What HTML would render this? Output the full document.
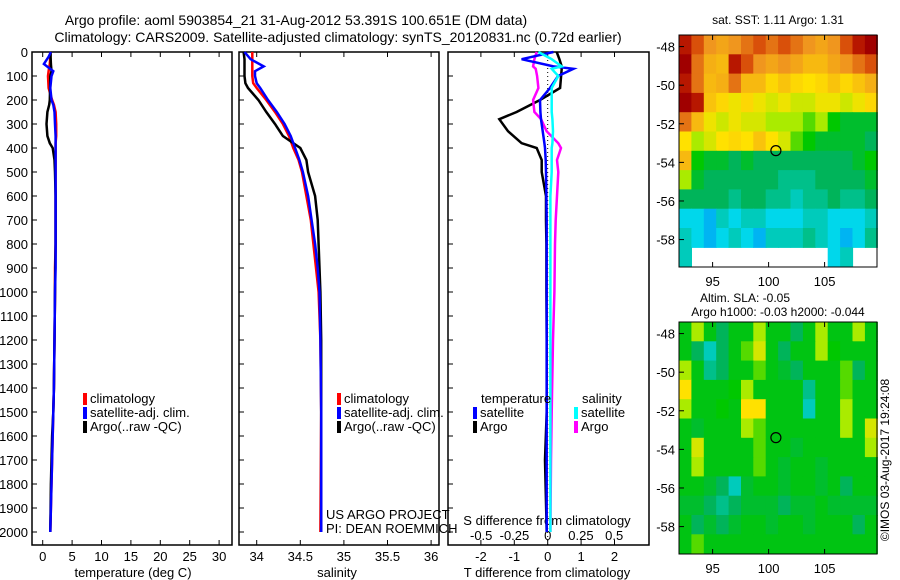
<!DOCTYPE html>
<html><head><meta charset="utf-8">
<style>
html,body{margin:0;padding:0;background:#fff;}
svg{display:block;font-family:"Liberation Sans",sans-serif;}
</style></head>
<body>
<svg id="fig" width="900" height="580" viewBox="0 0 900 580" xmlns="http://www.w3.org/2000/svg">
<text x="296" y="25" font-size="14" text-anchor="middle">Argo profile: aoml 5903854_21 31-Aug-2012 53.391S 100.651E (DM data)</text>
<text x="338" y="42" font-size="14" text-anchor="middle">Climatology: CARS2009. Satellite-adjusted climatology: synTS_20120831.nc (0.72d earlier)</text>
<g id="layer"></g>
</svg>
<script>
// ---------- data ----------
const depths = [0,20,50,80,100,150,200,220,250,300,350,380,400,450,500,600,700,800,900,1000,1200,1400,1500,1600,1700,1800,1900,2000];
const tempArgo = [1.35,1.35,1.4,1.5,1.3,1.25,1.2,1.1,0.8,0.65,0.8,1.2,1.7,2.0,2.1,2.2,2.2,2.2,2.15,2.1,2.0,1.9,1.8,1.6,1.5,1.4,1.35,1.3];
const tempClim = [1.35,1.3,1.2,1.0,0.9,1.0,1.6,1.9,2.2,2.3,2.3,2.2,2.2,2.2,2.2,2.2,2.2,2.2,2.1,2.1,2.0,1.9,1.8,1.7,1.6,1.5,1.4,1.3];
const tempSat = [1.4,1.0,0.2,1.8,1.5,1.3,1.5,1.8,2.0,2.1,2.2,2.2,2.2,2.2,2.2,2.2,2.2,2.2,2.2,2.1,2.0,1.9,1.8,1.7,1.6,1.5,1.4,1.3];
const salDepths = [0,30,60,80,100,130,150,200,250,300,350,400,450,500,600,700,800,900,1000,1200,1500,2000];
const salArgo = [33.85,33.86,33.86,33.86,33.86,33.87,33.90,34.02,34.11,34.21,34.30,34.50,34.57,34.59,34.67,34.70,34.71,34.72,34.73,34.74,34.74,34.74];
const salClim = [33.95,33.95,33.95,33.95,33.95,33.96,34.0,34.11,34.21,34.30,34.37,34.42,34.48,34.52,34.57,34.62,34.65,34.68,34.71,34.73,34.74,34.73];
const salSat = [33.86,33.93,34.08,33.98,33.98,34.0,34.04,34.13,34.23,34.32,34.39,34.44,34.49,34.53,34.59,34.63,34.67,34.70,34.72,34.73,34.74,34.74];
const diffDepths = [0,30,60,70,100,150,200,250,280,330,380,400,450,500,600,700,800,1000,1200,1500,1700,2000];
const dTArgo = [0.27,0.35,0.42,0.42,0.4,0.37,-0.23,-0.93,-1.45,-1.19,-0.78,-0.33,-0.18,-0.18,-0.05,-0.05,-0.04,-0.04,-0.03,-0.03,-0.08,-0.03];
const dTSat = [0.17,-0.78,0.17,0.77,0.31,0.07,-0.23,-0.22,-0.2,-0.15,-0.1,-0.08,-0.06,-0.05,-0.04,-0.03,-0.03,-0.03,-0.03,-0.03,-0.03,-0.03];
const dSSat = [-0.07,0.03,0.105,0.03,0.08,0.03,0.03,0.03,0.035,0.04,0.035,0.03,0.03,0.03,0.02,0.02,0.02,0.02,0.02,0.02,0.02,0.02];
const dSArgo = [-0.083,-0.1,-0.11,-0.09,-0.08,-0.07,-0.11,-0.1,-0.05,-0.008,0.08,0.1,0.07,0.08,0.07,0.06,0.055,0.05,0.04,0.03,0.025,0.02];
const depthTicks = [0,100,200,300,400,500,600,700,800,900,1000,1100,1200,1300,1400,1500,1600,1700,1800,1900,2000];
const tempTicks = [0,5,10,15,20,25,30];
const salTicks = [34,34.5,35,35.5,36];
const dTTicks = [-2,-1,0,1,2];
const dSTickLabels = ["-0.5","-0.25","0","0.25","0.5"];
const dSTicks = [-0.5,-0.25,0,0.25,0.5];
const latTicks = [-48,-50,-52,-54,-56,-58];
const lonTicks = [95,100,105];
const argoLon = 100.651, argoLat = -53.391;
const sstGrid = [
[.95,.85,.75,.72,.75,.8,.85,.8,.85,.8,.75,.72,.75,.85,.95,1],
[1,.8,.7,.68,.95,.85,.75,.72,.75,.72,.68,.68,.72,.75,.8,.85],
[.95,.8,.68,.7,.8,.68,.68,.62,.66,.62,.6,.62,.66,.62,.66,.7],
[1,.95,.66,.62,.58,.62,.58,.55,.58,.54,.54,.58,.58,.54,.58,.62],
[.8,.68,.58,.54,.58,.55,.55,.5,.5,.5,.45,.5,.4,.35,.35,.35],
[.6,.5,.55,.6,.62,.6,.66,.6,.55,.45,.4,.35,.35,.35,.35,.3],
[.68,.4,.35,.35,.3,.35,.3,.3,.3,.3,.3,.3,.3,.3,.35,.4],
[.5,.35,.3,.3,.3,.3,.3,.3,.25,.25,.25,.3,.3,.3,.3,.35],
[.3,.3,.3,.3,.25,.3,.3,.25,.25,.2,.25,.25,.3,.25,.25,.3],
[.15,.15,.1,.2,.15,.2,.2,.15,.15,.15,.2,.2,.15,.15,.15,.2],
[.2,.15,.1,.15,.2,.15,.1,.2,.2,.2,.25,.2,.15,.1,.15,.25],
[.2,-1,-1,-1,-1,-1,-1,-1,-1,-1,-1,-1,.15,.2,-1,-1]];
const slaGrid = [
[.38,.5,.38,.3,.38,.38,.5,.38,.38,.3,.38,.5,.38,.38,.5,.38],
[.38,.3,.2,.3,.38,.45,.55,.38,.3,.38,.38,.5,.4,.38,.38,.38],
[.5,.38,.25,.3,.38,.38,.45,.38,.35,.3,.38,.38,.38,.45,.3,.38],
[.6,.38,.38,.38,.4,.5,.38,.38,.38,.38,.25,.38,.38,.45,.38,.38],
[.5,.38,.38,.4,.38,.6,.6,.38,.38,.38,.2,.38,.38,.5,.38,.38],
[.38,.35,.38,.38,.38,.5,.45,.38,.38,.38,.38,.38,.38,.5,.38,.55],
[.38,.55,.38,.38,.38,.38,.45,.38,.38,.35,.38,.38,.38,.38,.38,.5],
[.38,.5,.38,.38,.38,.38,.45,.38,.35,.38,.38,.35,.38,.38,.38,.38],
[.38,.38,.35,.3,.2,.35,.38,.38,.35,.38,.38,.35,.38,.3,.38,.38],
[.35,.35,.3,.25,.3,.35,.35,.35,.3,.35,.35,.38,.35,.35,.35,.35],
[.38,.3,.35,.3,.35,.38,.38,.35,.38,.38,.35,.38,.38,.38,.3,.38],
[.38,.45,.38,.38,.38,.38,.38,.38,.38,.38,.38,.38,.38,.38,.38,.38]];

// ---------- scales ----------
const NS="http://www.w3.org/2000/svg";
const layer=document.getElementById('layer');
const yD = d => 52 + d*0.24;
const xT = t => 42.7 + t*5.88;
const xS = s => 256.7 + (s-34)*87.2;
const xDT = t => 547.7 + t*33.4;
const xDS = s => 547.7 + s*133;
function mk(tag, attrs, parent){const e=document.createElementNS(NS,tag);for(const k in attrs)e.setAttribute(k,attrs[k]);(parent||layer).appendChild(e);return e;}
function txt(x,y,s,anchor,size,name){const e=mk('text',{x:x,y:y,'font-size':size||12,'text-anchor':anchor||'start'});e.textContent=s;


return e;}
function line(xs, ds, xf, color, name, w){
  const pts = ds.map((d,i)=>xf(xs[i]).toFixed(1)+','+yD(d).toFixed(1)).join(' ');
  const e=mk('polyline',{points:pts,fill:'none',stroke:color,'stroke-width':w||2.5,'stroke-linejoin':'miter'});
  
  
}
function frame(x0,x1,name){
  const e=mk('rect',{x:x0,y:52,width:x1-x0,height:493,fill:'none',stroke:'#000','stroke-width':1.5});
  
  
  depthTicks.forEach(d=>{mk('line',{x1:x0,x2:x0+5,y1:yD(d),y2:yD(d),stroke:'#000'});});
}
frame(32,232,'temperature-panel');
frame(239,439,'salinity-panel');
frame(448,649,'difference-panel');
depthTicks.forEach(d=>txt(28,yD(d)+5,String(d),'end',13,'depth-tick-label'));
tempTicks.forEach(t=>{mk('line',{x1:xT(t),x2:xT(t),y1:52,y2:57,stroke:'#000'});mk('line',{x1:xT(t),x2:xT(t),y1:545,y2:540,stroke:'#000'});txt(xT(t),561,String(t),'middle',13,'temperature-tick-label');});
txt(133,577,'temperature (deg C)','middle',13,'temperature-axis-title');
salTicks.forEach(s=>{mk('line',{x1:xS(s),x2:xS(s),y1:52,y2:57,stroke:'#000'});mk('line',{x1:xS(s),x2:xS(s),y1:545,y2:540,stroke:'#000'});txt(xS(s),561,String(s),'middle',13,'salinity-tick-label');});
txt(337,577,'salinity','middle',13,'salinity-axis-title');
dTTicks.forEach(t=>{mk('line',{x1:xDT(t),x2:xDT(t),y1:52,y2:57,stroke:'#000'});mk('line',{x1:xDT(t),x2:xDT(t),y1:545,y2:540,stroke:'#000'});txt(xDT(t),561,String(t),'middle',13,'t-diff-tick-label');});
txt(547,577,'T difference from climatology','middle',13,'t-diff-axis-title');
dSTicks.forEach((s,i)=>txt(xDS(s),540,dSTickLabels[i],'middle',13,'s-diff-tick-label'));
txt(547,525,'S difference from climatology','middle',13,'s-diff-axis-title');
mk('line',{x1:xDT(0),x2:xDT(0),y1:52,y2:545,stroke:'#000','stroke-dasharray':'1,3'});
line(tempClim,depths,xT,'#f00','temp-climatology-line');
line(tempArgo,depths,xT,'#000','temp-argo-line');
line(tempSat,depths,xT,'#00f','temp-satellite-line');
line(salClim,salDepths,xS,'#f00','sal-climatology-line');
line(salArgo,salDepths,xS,'#000','sal-argo-line');
line(salSat,salDepths,xS,'#00f','sal-satellite-line');
line(dTArgo,diffDepths,xDT,'#000','dT-argo-line');
line(dSArgo,diffDepths,xDS,'#f0f','dS-argo-line');
line(dTSat,diffDepths,xDT,'#00f','dT-satellite-line');
line(dSSat,diffDepths,xDS,'#0ff','dS-satellite-line');
function leg(x,y,c,label){const r=mk('rect',{x:x,y:y-10,width:4,height:12,fill:c});


txt(x+7,y,label,'start',13,'legend-entry');}
[[83,'#f00','climatology',403],[83,'#00f','satellite-adj. clim.',417],[83,'#000','Argo(..raw -QC)',431]].forEach(a=>leg(a[0],a[3],a[1],a[2]));
[[337,'#f00','climatology',403],[337,'#00f','satellite-adj. clim.',417],[337,'#000','Argo(..raw -QC)',431]].forEach(a=>leg(a[0],a[3],a[1],a[2]));
txt(481,403,'temperature','start',13,'legend-title-temperature');
txt(582,403,'salinity','start',13,'legend-title-salinity');
leg(473,417,'#00f','satellite');leg(473,431,'#000','Argo');
leg(574,417,'#0ff','satellite');leg(574,431,'#f0f','Argo');
txt(326,519,'US ARGO PROJECT','start',13,'project-credit');
txt(326,533,'PI: DEAN ROEMMICH','start',13,'pi-credit');
const stops=[[0,[0,110,255]],[0.15,[0,215,235]],[0.3,[0,180,90]],[0.4,[0,200,0]],[0.5,[170,235,0]],[0.6,[255,225,0]],[0.75,[240,150,30]],[0.9,[205,45,0]],[1,[160,0,0]]];
function cmap(v){for(let i=1;i<stops.length;i++){if(v<=stops[i][0]){const a=stops[i-1],b=stops[i];const f=(v-a[0])/(b[0]-a[0]);return 'rgb('+a[1].map((c,k)=>Math.round(c+(b[1][k]-c)*f)).join(',')+')';}}return 'rgb(160,0,0)';}
function map(grid, top, name){
  const lon0=92.0, lon1=109.7, latTop=-47.4, latBot=-59.4;
  const px=lon=>679+(lon-lon0)*11.2, py=lat=>top+(latTop-lat)*19.3;
  const g=mk('g',{});
  
  
  const rows=grid.length, cols=grid[0].length;
  const dlon=(lon1-lon0)/cols, dlat=(latTop-latBot)/rows;
  grid.forEach((row,r)=>row.forEach((v,c)=>{if(v<0)return;
    const x0=px(lon0+c*dlon), x1=px(lon0+(c+1)*dlon), y0=py(latTop-r*dlat), y1=py(latTop-(r+1)*dlat);
    mk('rect',{x:x0.toFixed(1),y:y0.toFixed(1),width:(x1-x0+0.6).toFixed(1),height:(y1-y0+0.6).toFixed(1),fill:cmap(v)},g);}));
  mk('rect',{x:679,y:top,width:198,height:232,fill:'none',stroke:'#000','stroke-width':1});
  latTicks.forEach(l=>{mk('line',{x1:679,x2:684,y1:py(l),y2:py(l),stroke:'#000'});txt(675,py(l)+5,String(l),'end',13,'latitude-tick-label');});
  lonTicks.forEach(l=>{mk('line',{x1:px(l),x2:px(l),y1:top+232,y2:top+227,stroke:'#000'});mk('line',{x1:px(l),x2:px(l),y1:top,y2:top+5,stroke:'#000'});txt(px(l),top+251,String(l),'middle',13,'longitude-tick-label');});
  const m=mk('circle',{cx:px(argoLon),cy:py(argoLat),r:5,fill:'none',stroke:'#000','stroke-width':1.2});
  
  
}
map(sstGrid,35,'sst-map');
map(slaGrid,322,'sla-map');
txt(778,24,'sat. SST: 1.11  Argo: 1.31','middle',12,'sst-map-title');
txt(745,302,'Altim. SLA: -0.05','middle',12,'sla-map-title');
txt(778,316,'Argo h1000: -0.03 h2000: -0.044','middle',12,'argo-height-title');
const rt=txt(0,0,'©IMOS 03-Aug-2017 19:24:08','middle',12,'imos-timestamp');
rt.setAttribute('transform','translate(889,460) rotate(-90)');
</script>
</body></html>
